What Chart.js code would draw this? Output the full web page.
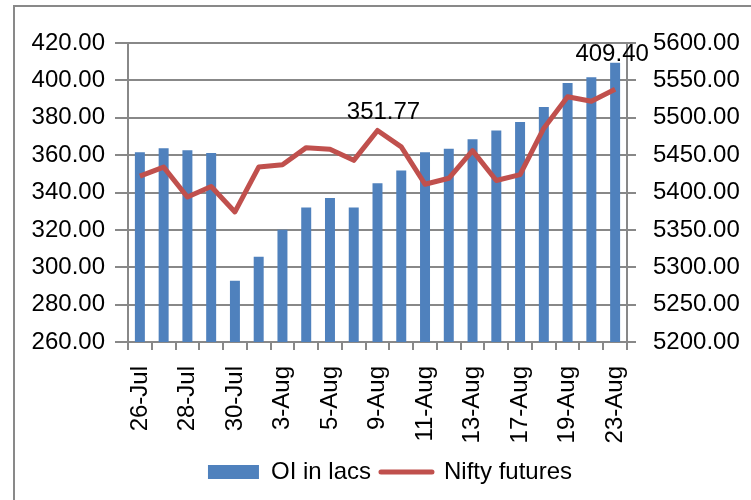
<!DOCTYPE html>
<html>
<head>
<meta charset="utf-8">
<script src="https://cdn.jsdelivr.net/npm/chart.js@4.4.1/dist/chart.umd.min.js"></script>
<style>
  body { margin: 0; background: #fff; }
  #frame { position: absolute; left: 13px; top: 5px; width: 800px; height: 600px;
           border-left: 2px solid #898989; border-top: 2px solid #898989; }
  #oiChart { position: absolute; left: 0; top: 0; }
</style>
</head>
<body>
<div id="frame"></div>
<canvas id="oiChart" width="751" height="500"></canvas>
<script>
// dates (trading days)
const dates = ['26-Jul', '27-Jul', '28-Jul', '29-Jul', '30-Jul', '2-Aug', '3-Aug', '4-Aug', '5-Aug', '6-Aug',
    '9-Aug', '10-Aug', '11-Aug', '12-Aug', '13-Aug', '16-Aug', '17-Aug', '18-Aug', '19-Aug', '20-Aug', '23-Aug'];

// open interest, lacs (left axis)
const oiLacs = [361.6, 363.7, 362.6, 361.2, 292.8, 305.6, 320.1, 332.0, 337.0, 332.0,
    345.0, 351.77, 361.6, 363.4, 368.5, 373.2, 377.7, 385.8, 398.6, 401.7, 409.40];

// nifty futures close (right axis)
const niftyFut = [5422, 5434, 5394, 5408, 5374, 5434, 5437, 5460, 5458, 5443,
    5483, 5461, 5411, 5419, 5456, 5416, 5424, 5486, 5528, 5522, 5538];

const grey = '#888888';
const blue = '#4F81BD';
const red = '#C0504D';

Chart.defaults.font.family = "'Liberation Sans', Arial, sans-serif";
Chart.defaults.font.size = 24;
Chart.defaults.color = '#000';

// the two value labels that were placed by hand in the original
const shownLabels = [
    { value: oiLacs[11], dataset: 1, index: 10, dx: 6, dy: -11 },
    { value: oiLacs[20], dataset: 0, index: 20, dx: -3, dy: -2 }
];

const valueLabels = {
    id: 'valueLabels',
    afterDatasetsDraw(chart) {
        const c = chart.ctx;
        c.save();
        c.font = "24px 'Liberation Sans', Arial, sans-serif";
        c.fillStyle = '#000';
        c.textAlign = 'center';
        c.textBaseline = 'alphabetic';
        shownLabels.forEach(l => {
            const pt = chart.getDatasetMeta(l.dataset).data[l.index];
            c.fillText(l.value.toFixed(2), pt.x + l.dx, pt.y + l.dy);
        });
        c.restore();
    }
};

const ctx = document.getElementById('oiChart').getContext('2d');

new Chart(ctx, {
    type: 'bar',
    data: {
        labels: dates,
        datasets: [
            {
                label: 'OI in lacs',
                data: oiLacs,
                backgroundColor: blue,
                borderWidth: 0,
                barPercentage: 0.42,
                categoryPercentage: 1,
                yAxisID: 'y',
                order: 1
            },
            {
                type: 'line',
                label: 'Nifty futures',
                data: niftyFut,
                borderColor: red,
                backgroundColor: red,
                borderWidth: 5,
                pointRadius: 0,
                tension: 0,
                borderJoinStyle: 'round',
                yAxisID: 'y1',
                order: 0
            }
        ]
    },
    options: {
        responsive: false,
        animation: false,
        layout: { padding: { left: 29, right: 0, top: 43, bottom: 6 } },
        plugins: {
            tooltip: { enabled: false },
            legend: {
                position: 'bottom',
                labels: {
                    usePointStyle: true,
                    pointStyleWidth: 51,
                    boxHeight: 14,
                    padding: 10,
                    color: '#000',
                    sort: (a, b) => a.datasetIndex - b.datasetIndex,
                    generateLabels(chart) {
                        const items = Chart.defaults.plugins.legend.labels.generateLabels(chart);
                        items.forEach(it => {
                            if (it.datasetIndex === 0) {
                                it.pointStyle = 'rect';
                                it.lineWidth = 0;
                            } else {
                                it.pointStyle = 'line';
                                it.lineWidth = 5;
                                it.strokeStyle = red;
                                it.lineCap = 'round';
                            }
                        });
                        return items;
                    }
                }
            }
        },
        scales: {
            x: {
                offset: true,
                grid: { offset: true, drawOnChartArea: false, tickLength: 8, color: grey, lineWidth: 2 },
                border: { color: grey, width: 2 },
                ticks: {
                    autoSkip: false,
                    minRotation: 90,
                    maxRotation: 90,
                    padding: 16,
                    callback: (v, i) => (i % 2 === 0 ? dates[i] : '')
                },
                afterFit: s => { s.height = 108; }
            },
            y: {
                position: 'left',
                min: 260,
                max: 420,
                ticks: { stepSize: 20, padding: 10, callback: v => v.toFixed(2) },
                grid: { color: grey, lineWidth: 2, tickLength: 13 },
                border: { color: grey, width: 2 },
                afterFit: s => { s.width = 99; }
            },
            y1: {
                position: 'right',
                min: 5200,
                max: 5600,
                ticks: { stepSize: 50, padding: 17, callback: v => v.toFixed(2) },
                grid: { drawOnChartArea: false, color: grey, lineWidth: 2, tickLength: 9 },
                border: { color: grey, width: 2 },
                afterFit: s => { s.width = 124; }
            }
        }
    },
    plugins: [valueLabels]
});
</script>
</body>
</html>
